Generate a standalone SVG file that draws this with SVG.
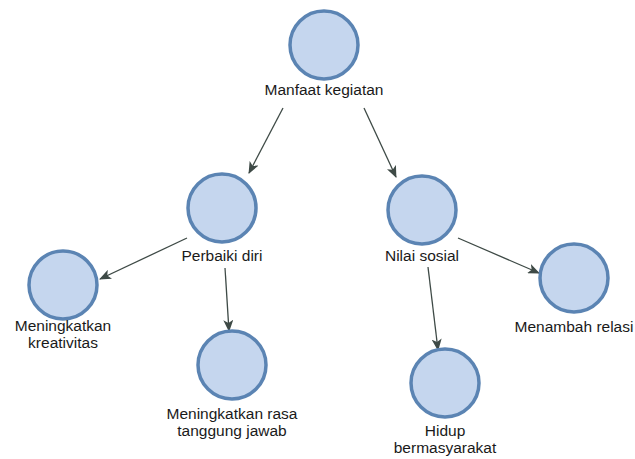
<svg xmlns="http://www.w3.org/2000/svg" width="635" height="459" viewBox="0 0 635 459">
<defs>
<style>
.node circle{fill:#c5d6ee;stroke:#5b84b3;stroke-width:3.5}
.node text{font-family:"Liberation Sans",Arial,sans-serif;font-size:15.5px;fill:#1a1a1a;text-anchor:middle}
.edges line{stroke:#3e4a46;stroke-width:1.3;marker-end:url(#ah)}
</style>
<marker id="ah" viewBox="0 0 12 10" refX="11" refY="5" markerWidth="12" markerHeight="10" markerUnits="userSpaceOnUse" orient="auto">
<path d="M0,0 L12,5 L0,10 L3,5 Z" fill="#3e4a46"/>
</marker>
</defs>
<rect width="635" height="459" fill="#ffffff"/>
<g class="edges">
<line x1="283" y1="108" x2="249" y2="173"/>
<line x1="364" y1="108" x2="396" y2="177"/>
<line x1="187" y1="238" x2="100" y2="279"/>
<line x1="225" y1="268" x2="229" y2="331"/>
<line x1="458" y1="238" x2="539" y2="273"/>
<line x1="428" y1="267" x2="438" y2="350"/>
</g>
<g id="n-manfaat" class="node"><circle cx="324" cy="45" r="34"/><text x="324" y="95">Manfaat kegiatan</text></g>
<g id="n-perbaiki" class="node"><circle cx="222" cy="208" r="34"/><text x="222" y="261">Perbaiki diri</text></g>
<g id="n-nilai" class="node"><circle cx="422" cy="210" r="34"/><text x="422" y="261">Nilai sosial</text></g>
<g id="n-kreativitas" class="node"><circle cx="63" cy="285" r="34"/><text x="63" y="331">Meningkatkan</text><text x="63" y="348">kreativitas</text></g>
<g id="n-rasa" class="node"><circle cx="232" cy="365" r="34"/><text x="232" y="419">Meningkatkan rasa</text><text x="232" y="436">tanggung jawab</text></g>
<g id="n-relasi" class="node"><circle cx="574" cy="278" r="34"/><text x="574" y="332">Menambah relasi</text></g>
<g id="n-hidup" class="node"><circle cx="445" cy="383" r="34"/><text x="445" y="436">Hidup</text><text x="445" y="453">bermasyarakat</text></g>
</svg>
